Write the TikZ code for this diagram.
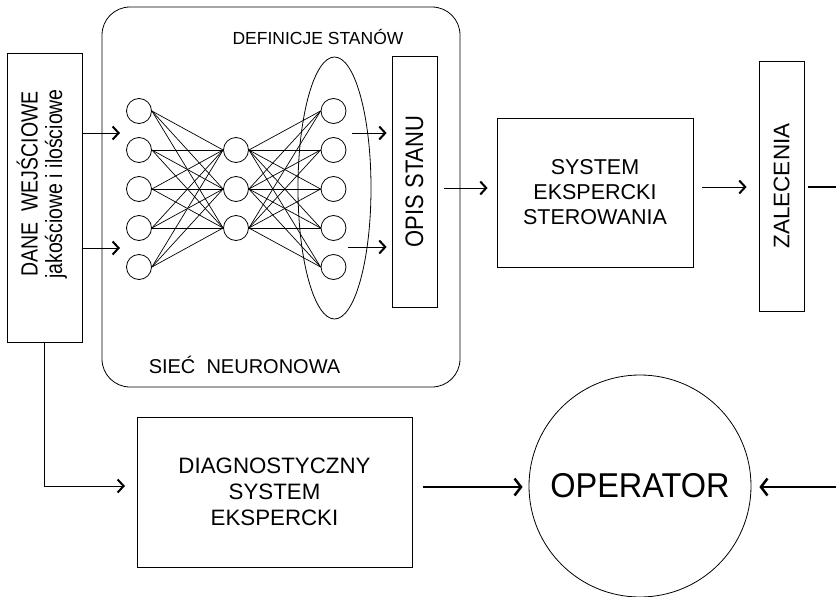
\documentclass[tikz,border=0pt]{standalone}
\usepackage{fontspec}
\setmainfont{Liberation Sans}
\usepackage{graphicx}
\usetikzlibrary{arrows.meta,shapes.geometric}
\newcommand{\fsz}[2]{\fontsize{#1}{#2}\selectfont}
\begin{document}
\begin{tikzpicture}[x=1pt,y=-1pt,
  box/.style={draw, line width=0.8pt, inner sep=0pt, align=center},
  neuron/.style={draw, circle, minimum size=25pt, inner sep=0pt, line width=0.8pt},
  wire/.style={line width=0.7pt},
  conn/.style={line width=0.8pt, -{Straight Barb[length=6pt,width=13pt,line width=2pt]}},
  heavy/.style={line width=2.5pt, -{Straight Barb[length=6.5pt,width=17pt]}},
  heavyline/.style={line width=2.5pt},
  lbl/.style={inner sep=0pt, align=center}]
\useasboundingbox (0,0) rectangle (836,597);

% neural network frame
\node[draw, line width=0.8pt, rounded corners=28pt, minimum width=358pt, minimum height=380pt, inner sep=0pt] (net) at (281,197) {};
\node[lbl, anchor=base, font=\fsz{17.5}{20}] (defs) at (318,44) {DEFINICJE STANÓW};
\node[lbl, anchor=base, font=\fsz{20}{24}] (netname) at (244.5,373) {SIEĆ\ \ NEURONOWA};

% input data box
\node[box, minimum width=75pt, minimum height=289pt] (dane) at (44.5,197.5) {};
\node[lbl, rotate=90, font=\fsz{19.5}{20}] (danetxt) at (43,184)
  {\scalebox{1}[1.2]{\begin{tabular}{@{}c@{}}DANE\ \ WEJŚCIOWE\\jakościowe i ilościowe\end{tabular}}};

% neurons
\foreach \i/\yy in {1/111,2/150,3/189,4/228,5/267} {
  \node[neuron] (in\i) at (139,\yy) {};
  \node[neuron] (out\i) at (333.5,\yy) {};
}
\foreach \j/\yy in {1/150,2/189,3/228} {
  \node[neuron] (hid\j) at (236,\yy) {};
}
\foreach \i in {1,...,5} {
  \foreach \j in {1,2,3} {
    \draw[wire] (in\i.east) -- (hid\j.west);
    \draw[wire] (hid\j.east) -- (out\i.west);
  }
}

% state definitions group
\node[draw, ellipse, line width=0.8pt, minimum width=73pt, minimum height=262pt, inner sep=0pt] (defgrp) at (334.5,188) {};

% state description
\node[box, minimum width=45pt, minimum height=251pt, font=\fsz{22}{26}] (opis) at (414.5,181.5) {\rotatebox{90}{\scalebox{1}[1.15]{OPIS STANU}}};

% control expert system
\node[box, minimum width=196pt, minimum height=149pt, font=\fsz{21.5}{25}] (sys) at (595,192.5) {SYSTEM\\EKSPERCKI\\STEROWANIA};

% recommendations
\node[box, minimum width=45pt, minimum height=250pt, font=\fsz{22.5}{26}] (zal) at (781.5,186) {\rotatebox{90}{ZALECENIA}};

% diagnostic expert system
\node[box, minimum width=275pt, minimum height=150pt, font=\fsz{22.3}{26}] (diag) at (274.5,492) {DIAGNOSTYCZNY\\SYSTEM\\EKSPERCKI};

% operator
\node[draw, circle, line width=0.8pt, minimum size=222pt, inner sep=0pt, font=\fsz{32.5}{38}] (op) at (640,486) {\scalebox{1}[1.06]{OPERATOR}};

% helper points
\coordinate (ina) at (120,133);
\coordinate (inb) at (120,248);
\coordinate (oa) at (352,133);
\coordinate (ob) at (348,247);
\coordinate (dtip) at (125,486);
\coordinate (zout) at (836,187);
\coordinate (rin) at (836,487);

% connectors
\draw[conn] (dane.east |- ina) -- (ina);
\draw[conn] (dane.east |- inb) -- (inb);
\draw[conn] (oa) -- ([xshift=-5pt]opis.west |- oa);
\draw[conn] (ob) -- ([xshift=-5pt]opis.west |- ob);
\draw[conn] ([xshift=7pt]opis.east |- 0,188) -- ([xshift=-9pt]sys.west |- 0,188);
\draw[conn] ([xshift=9pt]sys.east |- 0,187) -- ([xshift=-12pt]zal.west |- 0,187);
\draw[heavyline] ([xshift=4pt]zal.east |- zout) -- (zout);
\draw[conn] (dane.south) |- (dtip);
\draw[heavy] ([xshift=11pt]diag.east |- 0,487) -- ([xshift=-6pt]op.west |- 0,487);
\draw[heavy] (rin) -- ([xshift=8pt]op.east |- rin);
\end{tikzpicture}
\end{document}
